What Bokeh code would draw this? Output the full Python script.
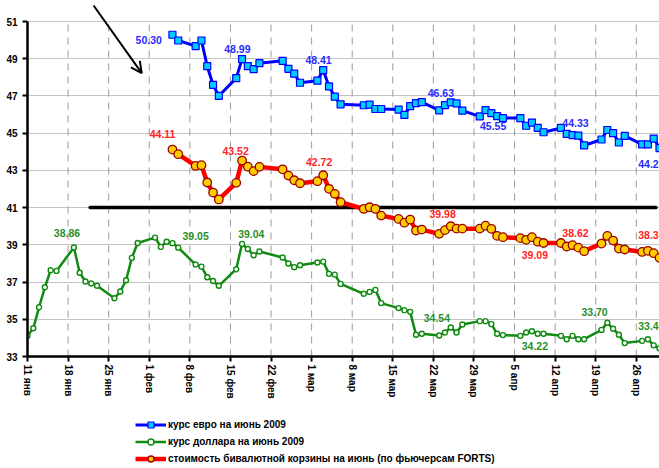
import pandas as pd
from bokeh.plotting import figure
from bokeh.layouts import column
from bokeh.models import (ColumnDataSource, FixedTicker, Legend, LegendItem,
                          Arrow, OpenHead, Range1d)
from bokeh.core.properties import value
from bokeh.embed import file_html
from bokeh.resources import INLINE

# ---------------- data ----------------
start_date = "2009-01-11"

usd_dates = [
    "2009-01-11", "2009-01-12", "2009-01-13", "2009-01-14", "2009-01-15", "2009-01-16",
    "2009-01-19", "2009-01-20", "2009-01-21", "2009-01-22", "2009-01-23",
    "2009-01-26", "2009-01-27", "2009-01-28", "2009-01-29", "2009-01-30",
    "2009-02-02", "2009-02-03", "2009-02-04", "2009-02-05", "2009-02-06",
    "2009-02-09", "2009-02-10", "2009-02-11", "2009-02-12", "2009-02-13",
    "2009-02-16", "2009-02-17", "2009-02-18", "2009-02-19", "2009-02-20",
    "2009-02-24", "2009-02-25", "2009-02-26", "2009-02-27",
    "2009-03-02", "2009-03-03", "2009-03-04", "2009-03-05", "2009-03-06",
    "2009-03-10", "2009-03-11", "2009-03-12", "2009-03-13",
    "2009-03-16", "2009-03-17", "2009-03-18", "2009-03-19", "2009-03-20",
    "2009-03-23", "2009-03-24", "2009-03-25", "2009-03-26", "2009-03-27",
    "2009-03-30", "2009-03-31", "2009-04-01", "2009-04-02", "2009-04-03",
    "2009-04-06", "2009-04-07", "2009-04-08", "2009-04-09", "2009-04-10",
    "2009-04-13", "2009-04-14", "2009-04-15", "2009-04-16", "2009-04-17",
    "2009-04-20", "2009-04-21", "2009-04-22", "2009-04-23", "2009-04-24",
    "2009-04-27", "2009-04-28", "2009-04-29", "2009-04-30",
]
usd_values = [
    34.11, 34.52, 35.65, 36.72, 37.64, 37.60,
    38.86, 37.50, 37.03, 36.92, 36.80,
    36.13, 36.49, 37.10, 38.30, 39.10,
    39.39, 38.89, 39.17, 39.09, 38.85,
    37.94, 37.83, 37.26, 37.06, 36.80,
    37.69, 39.05, 38.78, 38.44, 38.64,
    38.32, 38.00, 37.80, 37.90,
    38.05, 38.10, 37.44, 37.40, 36.90,
    36.37, 36.47, 36.58, 35.87,
    35.60, 35.49, 35.40, 34.17, 34.22,
    34.13, 34.29, 34.56, 34.29, 34.72,
    34.90, 34.90, 34.74, 34.22, 34.15,
    34.11, 34.29, 34.36, 34.22, 34.22,
    34.11, 33.93, 34.11, 33.93, 33.93,
    34.43, 34.81, 34.49, 34.17, 33.72,
    33.84, 33.93, 33.60, 33.44,
]
eur_dates = usd_dates[19:]
eur_values = [
    50.29, 49.98,
    49.68, 49.98, 48.60, 47.60, 47.00,
    47.96, 48.98, 48.60, 48.44, 48.76,
    48.89, 48.46, 48.20, 47.71,
    47.82, 48.39, 47.51, 46.96, 46.55,
    46.50, 46.53, 46.30, 46.30,
    46.27, 45.98, 46.45, 46.62, 46.67,
    46.23, 46.51, 46.66, 46.60, 46.21,
    45.90, 46.24, 46.08, 45.92, 45.81,
    45.81, 45.40, 45.57, 45.28, 45.05,
    45.28, 44.96, 44.90, 44.87, 44.34,
    44.66, 45.17, 45.00, 44.50, 44.85,
    44.40, 44.40, 44.71, 44.20,
]
basket_values = [
    44.12, 43.87,
    43.24, 43.28, 42.35, 41.81, 41.44,
    42.33, 43.53, 43.20, 42.96, 43.19,
    43.06, 42.72, 42.47, 42.31,
    42.42, 42.74, 42.01, 41.74, 41.29,
    40.93, 41.02, 40.93, 40.57,
    40.39, 40.19, 40.36, 39.77, 39.82,
    39.59, 39.79, 40.00, 39.87, 39.87,
    39.87, 40.03, 39.86, 39.48, 39.41,
    39.36, 39.27, 39.41, 39.17, 39.10,
    39.10, 38.91, 38.98, 38.85, 38.66,
    39.07, 39.48, 39.23, 38.80, 38.75,
    38.62, 38.68, 38.55, 38.30,
]

series_names = [
    "курс евро на июнь 2009",
    "курс доллара на июнь 2009",
    "стоимость бивалютной корзины на июнь (по фьючерсам FORTS)",
]

tick_dates = ["2009-01-11", "2009-01-18", "2009-01-25", "2009-02-01", "2009-02-08",
              "2009-02-15", "2009-02-22", "2009-03-01", "2009-03-08", "2009-03-15",
              "2009-03-22", "2009-03-29", "2009-04-05", "2009-04-12", "2009-04-19",
              "2009-04-26"]
tick_labels = ["11 янв", "18 янв", "25 янв", "1 фев", "8 фев", "15 фев", "22 фев",
               "1 мар", "8 мар", "15 мар", "22 мар", "29 мар", "5 апр", "12 апр",
               "19 апр", "26 апр"]
y_ticks = [33, 35, 37, 39, 41, 43, 45, 47, 49, 51]
y_min, y_max = 33, 51

# value labels (text, anchor day offset, anchor value)
eur_lab_text = ["50.30", "48.99", "48.41", "46.63", "45.55", "44.33", "44.20"]
eur_lab_day = [20.9, 36.2, 50.2, 71.3, 80.3, 94.5, 107.6]
eur_lab_val = [50.02, 49.54, 48.95, 47.18, 45.37, 45.57, 43.32]

bsk_lab_text = ["44.11", "43.52", "42.72", "39.98", "39.09", "38.62", "38.30"]
bsk_lab_day = [23.3, 35.9, 50.3, 71.6, 87.5, 94.5, 107.6]
bsk_lab_val = [44.93, 44.05, 43.46, 40.65, 38.44, 39.65, 39.53]

usd_lab_text = ["38.86", "39.05", "39.04", "34.54", "34.22", "33.70", "33.47"]
usd_lab_day = [6.8, 29.0, 38.6, 70.6, 87.5, 97.8, 107.6]
usd_lab_val = [39.62, 39.47, 39.58, 35.06, 33.57, 35.41, 34.66]

level_value = 41.0
level_from_day, level_to_day = 10.8, 108.4
arrow_from = (11.4, 51.86)
arrow_to = (19.7, 48.23)

# ---------------- helpers ----------------
def to_day(d):
    return (pd.Timestamp(d) - pd.Timestamp(start_date)).days

usd_src = ColumnDataSource(dict(x=[to_day(d) for d in usd_dates], y=usd_values))
eur_src = ColumnDataSource(dict(x=[to_day(d) for d in eur_dates], y=eur_values))
bsk_src = ColumnDataSource(dict(x=[to_day(d) for d in eur_dates], y=basket_values))
tick_x = [to_day(d) for d in tick_dates]

FONT = "Liberation Sans"
FRAME_H = 356
PX_PER_UNIT = 18.61

EUR_STYLE = dict(line=dict(line_color="#0000ff", line_width=3),
                 pts=dict(marker="square", size=7, fill_color="#00ccff",
                          line_color="#0000ff", line_width=1.2))
USD_STYLE = dict(line=dict(line_color="#108a10", line_width=2.5),
                 pts=dict(marker="circle", size=5, fill_color="white",
                          line_color="#108a10", line_width=1.4))
BSK_STYLE = dict(line=dict(line_color="#ff0000", line_width=4.5),
                 pts=dict(marker="circle", size=8.5, fill_color="#ffcc00",
                          line_color="#990000", line_width=1.3))

p = figure(frame_width=632, frame_height=FRAME_H,
           x_range=Range1d(0, 109.0),
           y_range=Range1d(y_min, y_min + FRAME_H / PX_PER_UNIT),
           min_border_left=27, min_border_right=0, min_border_top=0,
           min_border_bottom=44,
           output_backend="svg", toolbar_location=None)
p.outline_line_color = None
p.background_fill_color = "white"

# grids
p.xgrid.grid_line_color = None
p.segment(x0=tick_x, y0=[y_min] * len(tick_x), x1=tick_x, y1=[y_max] * len(tick_x),
          line_color="#9a9a9a", line_width=1, line_dash="7 6")
p.ygrid.ticker = FixedTicker(ticks=y_ticks)
p.ygrid.grid_line_color = "#c4c4c4"
p.ygrid.grid_line_width = 1.2

# axes
p.xaxis.ticker = FixedTicker(ticks=tick_x)
p.xaxis.major_label_overrides = {t: l for t, l in zip(tick_x, tick_labels)}
p.xaxis.major_label_orientation = "vertical"
p.yaxis.ticker = FixedTicker(ticks=y_ticks)
p.yaxis.bounds = (y_min, y_max)
for ax in (p.xaxis[0], p.yaxis[0]):
    ax.axis_line_width = 2.5
    ax.axis_line_color = "black"
    ax.major_tick_line_width = 2
    ax.major_tick_line_color = "black"
    ax.major_tick_out = 5
    ax.major_tick_in = 0
    ax.minor_tick_line_color = None
    ax.major_label_text_font = FONT
    ax.major_label_text_font_style = "bold"
    ax.major_label_text_font_size = "10px"
    ax.major_label_text_color = "black"
    ax.major_label_standoff = 3
p.yaxis.major_label_standoff = 5

# level line
p.segment(x0=[level_from_day], y0=[level_value], x1=[level_to_day], y1=[level_value],
          line_color="black", line_width=3.5, line_cap="round")

# series
p.line("x", "y", source=eur_src, **EUR_STYLE["line"])
p.scatter("x", "y", source=eur_src, **EUR_STYLE["pts"])
p.line("x", "y", source=usd_src, **USD_STYLE["line"])
p.scatter("x", "y", source=usd_src, **USD_STYLE["pts"])
p.line("x", "y", source=bsk_src, **BSK_STYLE["line"])
p.scatter("x", "y", source=bsk_src, **BSK_STYLE["pts"])

# value labels
def add_labels(days, vals, texts, color):
    p.text(x=days, y=vals, text=texts, text_color=color,
           text_font=value(FONT), text_font_style="bold", text_font_size="10.5px",
           text_align="center", text_baseline="middle")

add_labels(eur_lab_day, eur_lab_val, eur_lab_text, "#2a2aff")
add_labels(bsk_lab_day, bsk_lab_val, bsk_lab_text, "#ff2424")
add_labels(usd_lab_day, usd_lab_val, usd_lab_text, "#2a8f2a")

# arrow
p.add_layout(Arrow(end=OpenHead(size=11, line_width=2, line_color="black"),
                   x_start=arrow_from[0], y_start=arrow_from[1],
                   x_end=arrow_to[0], y_end=arrow_to[1],
                   line_width=2, line_color="black"))

# ---------------- legend strip (below the chart) ----------------
lg = figure(width=659, height=68, x_range=Range1d(0, 1), y_range=Range1d(0, 1),
            min_border=0, x_axis_type=None, y_axis_type=None,
            output_backend="svg", toolbar_location=None)
lg.outline_line_color = None
lg.grid.visible = False
nan_src = ColumnDataSource(dict(x=[float("nan")], y=[float("nan")]))
items = []
for name, style in zip(series_names, (EUR_STYLE, USD_STYLE, BSK_STYLE)):
    r1 = lg.line("x", "y", source=nan_src, **style["line"])
    r2 = lg.scatter("x", "y", source=nan_src, **style["pts"])
    items.append(LegendItem(label=name, renderers=[r1, r2]))

legend = Legend(items=items, location=(108, 3), orientation="vertical",
                glyph_width=31, glyph_height=15, label_height=15, spacing=2,
                padding=0, margin=0, label_standoff=2,
                border_line_color=None, background_fill_alpha=0,
                label_text_font=FONT, label_text_font_style="bold",
                label_text_font_size="10px", label_text_color="black")
lg.add_layout(legend)

layout = column(p, lg, spacing=0)
open("out.html", "w").write(file_html(layout, INLINE))
